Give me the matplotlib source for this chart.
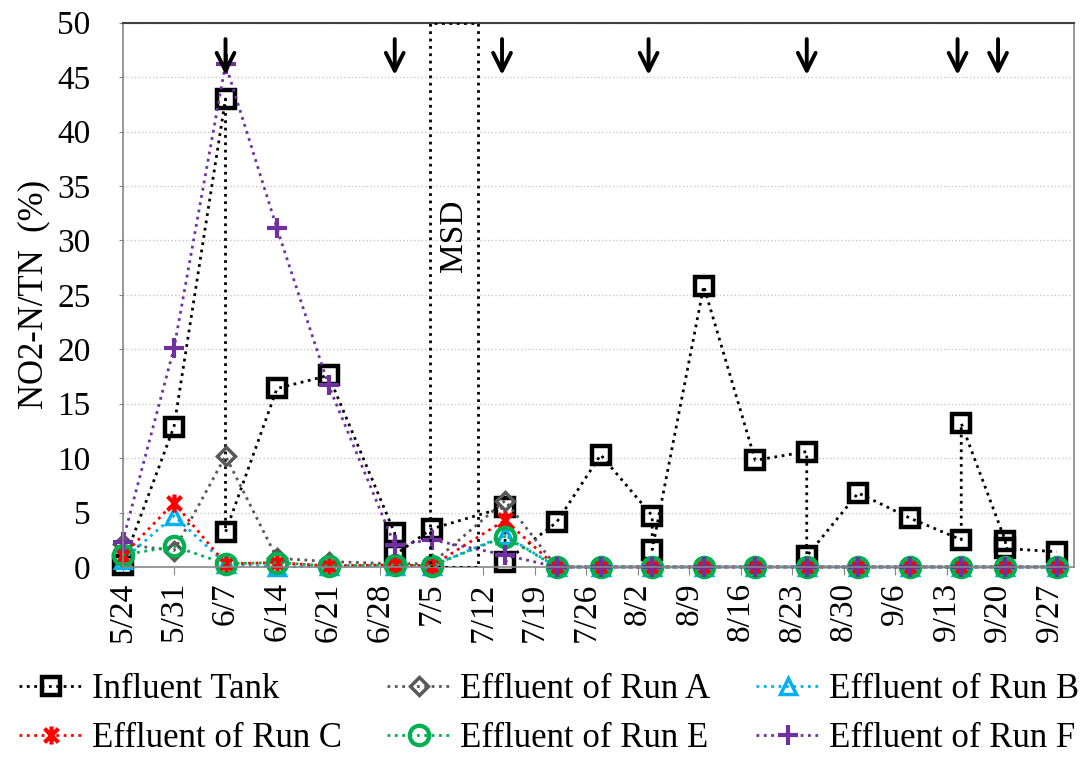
import numpy as np
import pandas as pd
import matplotlib
matplotlib.use('Agg')
import matplotlib.pyplot as plt
import matplotlib.dates as mdates
from matplotlib.path import Path
from matplotlib.patches import Rectangle

plt.rcParams['font.family'] = ['Liberation Serif', 'DejaVu Serif']
plt.rcParams['font.size'] = 24

YEAR = '2013-'

# Influent tank sampling (some days were sampled twice)
inf_dates = ['05-24', '05-31', '06-07', '06-07', '06-14', '06-21', '06-30', '06-30',
             '07-05', '07-15', '07-15', '07-22', '07-28', '08-04', '08-04', '08-11',
             '08-18', '08-25', '08-25', '09-01', '09-08', '09-15', '09-15', '09-21',
             '09-21', '09-28']
inf_vals = [0.2, 12.9, 43.0, 3.2, 16.4, 17.6, 3.1, 1.1,
            3.5, 5.5, 0.5, 4.1, 10.3, 4.7, 1.6, 25.8,
            9.8, 10.6, 1.0, 6.8, 4.5, 2.5, 13.2, 2.4,
            1.7, 1.4]

# Effluent sampling days
eff_dates = ['05-24', '05-31', '06-07', '06-14', '06-21', '06-30', '07-05', '07-15',
             '07-22', '07-28', '08-04', '08-11', '08-18', '08-25', '09-01', '09-08',
             '09-15', '09-21', '09-28']
run_a = [2.1, 1.5, 10.2, 0.8, 0.5, 0.3, 0.3, 6.1, 0, 0, 0, 0, 0, 0, 0, 0, 0, 0, 0]
run_b = [0.6, 4.7, 0.3, 0.0, 0.1, 0.1, 0.1, 2.9, 0, 0, 0, 0, 0, 0, 0, 0, 0, 0, 0]
run_c = [1.0, 5.9, 0.3, 0.4, 0.1, 0.2, 0.1, 4.3, 0, 0, 0, 0, 0, 0, 0, 0, 0, 0, 0]
run_e = [1.1, 1.9, 0.3, 0.4, 0.1, 0.2, 0.1, 2.8, 0, 0, 0, 0, 0, 0, 0, 0, 0, 0, 0]
run_f = [2.3, 20.1, 46.2, 31.1, 16.7, 2.0, 2.5, 1.1, 0, 0, 0, 0, 0, 0, 0, 0, 0, 0, 0]

# Event arrows along the top
arrow_dates = ['06-07', '06-30', '07-14 14:00', '08-03 12:00', '08-25', '09-14 12:00', '09-20']

# MSD period box
msd_start = '07-04 19:00'
msd_end = '07-11 07:00'

tick_labels = ['5/24', '5/31', '6/7', '6/14', '6/21', '6/28', '7/5', '7/12', '7/19', '7/26',
               '8/2', '8/9', '8/16', '8/23', '8/30', '9/6', '9/13', '9/20', '9/27']
x_end = '09-30 07:00'


def to_num(days):
    return mdates.date2num(pd.to_datetime([YEAR + d for d in days], format='mixed'))


# asterisk marker: an X with a vertical bar
star = Path([(-1, -1), (1, 1), (-1, 1), (1, -1), (0, -1.3), (0, 1.3)],
            [Path.MOVETO, Path.LINETO, Path.MOVETO, Path.LINETO, Path.MOVETO, Path.LINETO])

fig, ax = plt.subplots(figsize=(10.89, 7.58), dpi=100)
fig.subplots_adjust(left=0.1125, right=0.986, top=0.970, bottom=0.252)

series = [
    ('Influent Tank', inf_dates, inf_vals, 'black', 's', 13, 3.2),
    ('Effluent of Run A', eff_dates, run_a, '#595959', 'D', 9, 2.5),
    ('Effluent of Run B', eff_dates, run_b, '#00B0F0', '^', 11, 2.5),
    ('Effluent of Run C', eff_dates, run_c, '#FF0000', star, 13, 3),
    ('Effluent of Run E', eff_dates, run_e, '#00B050', 'o', 14, 3),
    ('Effluent of Run F', eff_dates, run_f, '#7030A0', '+', 15, 3),
]

handles = []
for label, d, v, color, marker, ms, mew in series:
    h, = ax.plot(to_num(d), v, linestyle=':', linewidth=2, color=color,
                 marker=marker, markersize=ms, markeredgewidth=mew,
                 markerfacecolor='none', markeredgecolor=color,
                 label=label, clip_on=False)
    handles.append(h)

# MSD box
x0, x1 = to_num([msd_start, msd_end])
ax.add_patch(Rectangle((x0, 0), x1 - x0, 50, fill=False, edgecolor='black',
                       linestyle=':', linewidth=2, zorder=5))
ax.text((x0 + x1) / 2, 30.4, 'MSD', rotation=90, ha='center', va='center', fontsize=24)

for xa in to_num(arrow_dates):
    ax.annotate('', xy=(xa, 45.2), xytext=(xa, 48.5),
                arrowprops=dict(arrowstyle='->', lw=2.8, color='black',
                                mutation_scale=32, shrinkA=0, shrinkB=0))

start = to_num(['05-24'])[0]
ticks = start + 7 * np.arange(len(tick_labels))
ax.set_xticks(ticks)
ax.set_xticklabels(tick_labels, rotation=90)
ax.set_xlim(start, to_num([x_end])[0])

ax.set_ylim(0, 50)
ax.set_yticks(np.arange(0, 51, 5))
ax.yaxis.grid(True, linestyle=':', color='#C8C8C8', linewidth=1)
ax.set_axisbelow(True)
ax.set_ylabel('NO2-N/TN  (%)', labelpad=5, fontsize=25)

ax.tick_params(axis='y', direction='out', length=3, pad=20, color='#868686', labelsize=24)
ax.tick_params(axis='x', direction='out', length=6, pad=5, color='#868686', labelsize=24)
for side in ['left', 'bottom', 'right']:
    ax.spines[side].set_color('#868686')
    ax.spines[side].set_linewidth(1.2)
ax.spines['top'].set_color('#404040')
ax.spines['top'].set_linewidth(1.5)

order = [0, 3, 1, 4, 2, 5]
fig.legend([handles[i] for i in order], [series[i][0] for i in order],
           ncol=3, loc='lower center', bbox_to_anchor=(0.504, -0.024), frameon=False,
           fontsize=25, handlelength=1.85, handletextpad=0.26, columnspacing=1.3,
           labelspacing=0.48, borderaxespad=0.2)

fig.savefig('out.png', dpi=100)
